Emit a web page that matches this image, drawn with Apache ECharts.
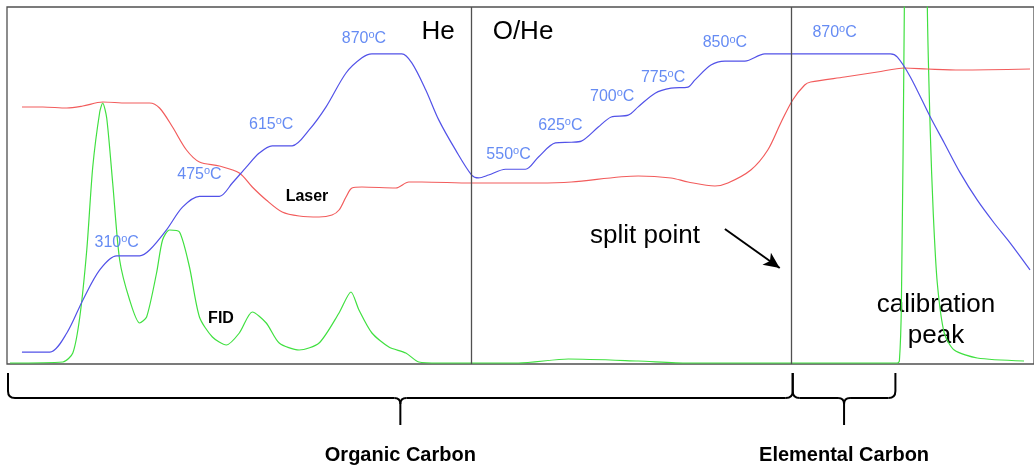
<!DOCTYPE html>
<html>
<head>
<meta charset="utf-8">
<script src="https://cdn.jsdelivr.net/npm/echarts@6/dist/echarts.min.js"></script>
<style>
  html, body { margin: 0; padding: 0; background: #fff; }
  #chart { width: 1034px; height: 465px; }
</style>
</head>
<body>
<div id="chart"></div>
<script>
// Thermal-optical carbon analysis thermogram: oven temperature, laser transmittance and FID response.

// Oven temperature (°C) over analysis time
const tempTime = [15,43,60,76,93,110,133,143,160,176,193,213,226,240,253,266,286,303,320,340,356,366,396,406,420,433,450,466,473,483,500,520,533,550,566,576,593,606,623,633,650,666,683,690,706,720,740,760,790,886,893,906,926,940,956,973,990,1006,1026];
const tempC = [43,43,96,187,271,310,310,326,382,445,475,475,512,556,595,615,615,659,723,817,859,870,870,845,770,687,603,534,526,534,550,550,584,623,625,628,667,695,700,723,761,775,778,798,839,850,850,870,870,870,861,806,695,623,540,465,401,346,271];

// Laser transmittance signal (arbitrary units)
const laserTime = [15,36,60,76,96,120,143,153,166,180,193,213,233,246,260,276,293,313,326,333,340,346,356,390,403,416,466,533,566,633,666,683,710,723,746,763,776,788,800,806,840,873,900,923,956,1026];
const laserSignal = [257,257,256,258,262,261,261,256,237,214,202,198,191,177,164,152,148,147,149,154,167,176,177,176,182,182,181,181,182,188,186,182,178,181,194,214,241,264,279,282,287,292,296,295,294,295];

// FID response (arbitrary units); the calibration peak runs off scale
const fidTime = [3,56,66,73,80,86,93,96,100,106,113,123,133,140,150,156,163,173,183,193,206,220,233,246,260,273,293,313,333,345,353,366,383,400,413,433,513,563,633,683,783,893,895,897,900,903,912,920,923,926,929,933,940,950,973,1020];
const fidSignal = [1,2,11,47,114,197,252,261,246,181,104,64,41,47,91,124,134,132,97,47,27,19,31,52,41,21,14,21,51,72,54,31,17,11,2,1,1,5,3,1,1,1,3,60,360,900,1400,900,360,231,150,81,31,14,6,3];

// Temperature steps that are labelled on the curve
const stepTime = [110,193,266,366,500,566,623,666,720,830];
const stepTemp = [310,475,615,870,550,625,700,775,850,870];

// Phase boundaries: He -> O/He switch, OC/EC split point, start of calibration
const heOxSwitch = 466;
const splitPoint = 787;
const calibStart = 891;
const runStart = 1;

// Label offsets (pixels) for the temperature step labels
const stepLabelOffset = [[0,-13],[0,-22],[-1,-21],[-8,-15],[3,-15],[-11,-17],[-16,-19],[-8,-11],[0,-18],[0,-21]];

const zip = (a, b) => a.map((v, i) => [v, b[i]]);

const FONT = '"Liberation Sans", Arial, sans-serif';
const BLUE_LINE = '#5252e8';
const BLUE_TEXT = '#3f6ef0';
const RED_LINE = '#f25c5c';
const GREEN_LINE = '#40e040';

const chart = echarts.init(document.getElementById('chart'), null, { renderer: 'canvas' });

const stepData = stepTime.map((t, i) => ({
  value: [t, stepTemp[i]],
  label: { offset: stepLabelOffset[i] }
}));

chart.setOption({
  animation: false,
  backgroundColor: '#fff',
  grid: {
    left: 7, top: 7, width: 1030, height: 357,
    show: true, borderColor: '#505050', borderWidth: 1.3, backgroundColor: 'transparent'
  },
  xAxis: {
    type: 'value', min: 0, max: 1030,
    show: false, splitLine: { show: false }
  },
  yAxis: [
    { type: 'value', min: 10, max: 1000, show: false, splitLine: { show: false } },
    { type: 'value', min: 0, max: 357, show: false, splitLine: { show: false } }
  ],
  series: [
    {
      name: 'Temperature', type: 'line', yAxisIndex: 0,
      data: zip(tempTime, tempC),
      smooth: 0.3, showSymbol: false, symbol: 'none',
      lineStyle: { color: BLUE_LINE, width: 1.2 },
      z: 3,
      markLine: {
        silent: true, symbol: 'none', animation: false,
        label: { show: false },
        lineStyle: { color: '#505050', width: 1.3, type: 'solid' },
        data: [{ xAxis: heOxSwitch }, { xAxis: splitPoint }]
      }
    },
    {
      name: 'Laser', type: 'line', yAxisIndex: 1,
      data: zip(laserTime, laserSignal),
      smooth: 0.3, showSymbol: false, symbol: 'none',
      lineStyle: { color: RED_LINE, width: 1.2 },
      z: 2,
      markLine: {
        silent: true, animation: false,
        symbol: ['none', 'arrow'], symbolSize: [11, 16],
        label: { show: false },
        lineStyle: { color: '#000', width: 2, type: 'solid' },
        data: [[{ coord: [720, 135] }, { coord: [775, 96] }]]
      }
    },
    {
      name: 'FID', type: 'line', yAxisIndex: 1,
      data: zip(fidTime, fidSignal),
      smooth: 0.25, showSymbol: false, symbol: 'none',
      lineStyle: { color: GREEN_LINE, width: 1.2 },
      clip: true,
      z: 1
    },
    {
      name: 'Steps', type: 'scatter', yAxisIndex: 0,
      data: stepData,
      symbolSize: 1,
      itemStyle: { color: 'rgba(0,0,0,0)' },
      silent: true,
      label: {
        show: true, position: 'inside',
        formatter: p => '{v|' + p.value[1] + '}{o|o}{v|C}',
        rich: {
          v: { fontFamily: FONT, fontSize: 16, color: BLUE_TEXT, lineHeight: 18 },
          o: { fontFamily: FONT, fontSize: 11, color: BLUE_TEXT, verticalAlign: 'top', lineHeight: 12 }
        }
      },
      z: 5
    }
  ]
});

// Annotation text and the OC / EC braces drawn below the plot
const px = t => chart.convertToPixel({ xAxisIndex: 0 }, t);
const BRACE_STYLE = { stroke: '#000', lineWidth: 2, fill: 'none' };

function seg(x1, y1, x2, y2) {
  return { type: 'line', silent: true, shape: { x1, y1, x2, y2 }, style: BRACE_STYLE };
}
function curve(x1, y1, cx, cy, x2, y2) {
  return { type: 'bezierCurve', silent: true,
    shape: { x1, y1, x2, y2, cpx1: cx, cpy1: cy }, style: BRACE_STYLE };
}
function brace(xa, xb) {
  const yt = 373, ym = 398, yb = 425, r = 7, c = 6;
  const xc = (xa + xb) / 2;
  return [
    seg(xa, yt, xa, ym - r),
    curve(xa, ym - r, xa, ym, xa + r, ym),
    seg(xa + r, ym, xc - c, ym),
    curve(xc - c, ym, xc, ym, xc, ym + c),
    seg(xc, ym + c, xc, yb),
    curve(xc + c, ym, xc, ym, xc, ym + c),
    seg(xc + c, ym, xb - r, ym),
    curve(xb - r, ym, xb, ym, xb, ym - r),
    seg(xb, ym - r, xb, yt)
  ];
}

const x0 = px(runStart), xs = px(splitPoint) + 1, xe = px(calibStart);

function label(text, x, y, size, bold, extra) {
  return {
    type: 'text', x: x, y: y, silent: true,
    style: Object.assign({
      text: text, fill: '#000',
      font: (bold ? 'bold ' : '') + size + 'px ' + FONT,
      align: 'center', verticalAlign: 'middle'
    }, extra || {})
  };
}

chart.setOption({
  graphic: [
    label('He', 438, 32, 26, false),
    label('O/He', 523, 32, 26, false),
    label('split point', 645, 236, 26, false),
    label('calibration\npeak', 936, 320, 26, false, { lineHeight: 31 }),
    label('Laser', 307, 197, 16, true),
    label('FID', 221, 319, 16, true),
    label('Organic Carbon', (x0 + xs) / 2, 455, 20, true),
    label('Elemental Carbon', (xs + xe) / 2, 455, 20, true)
  ].concat(brace(x0, xs), brace(xs, xe))
});
</script>
</body>
</html>
